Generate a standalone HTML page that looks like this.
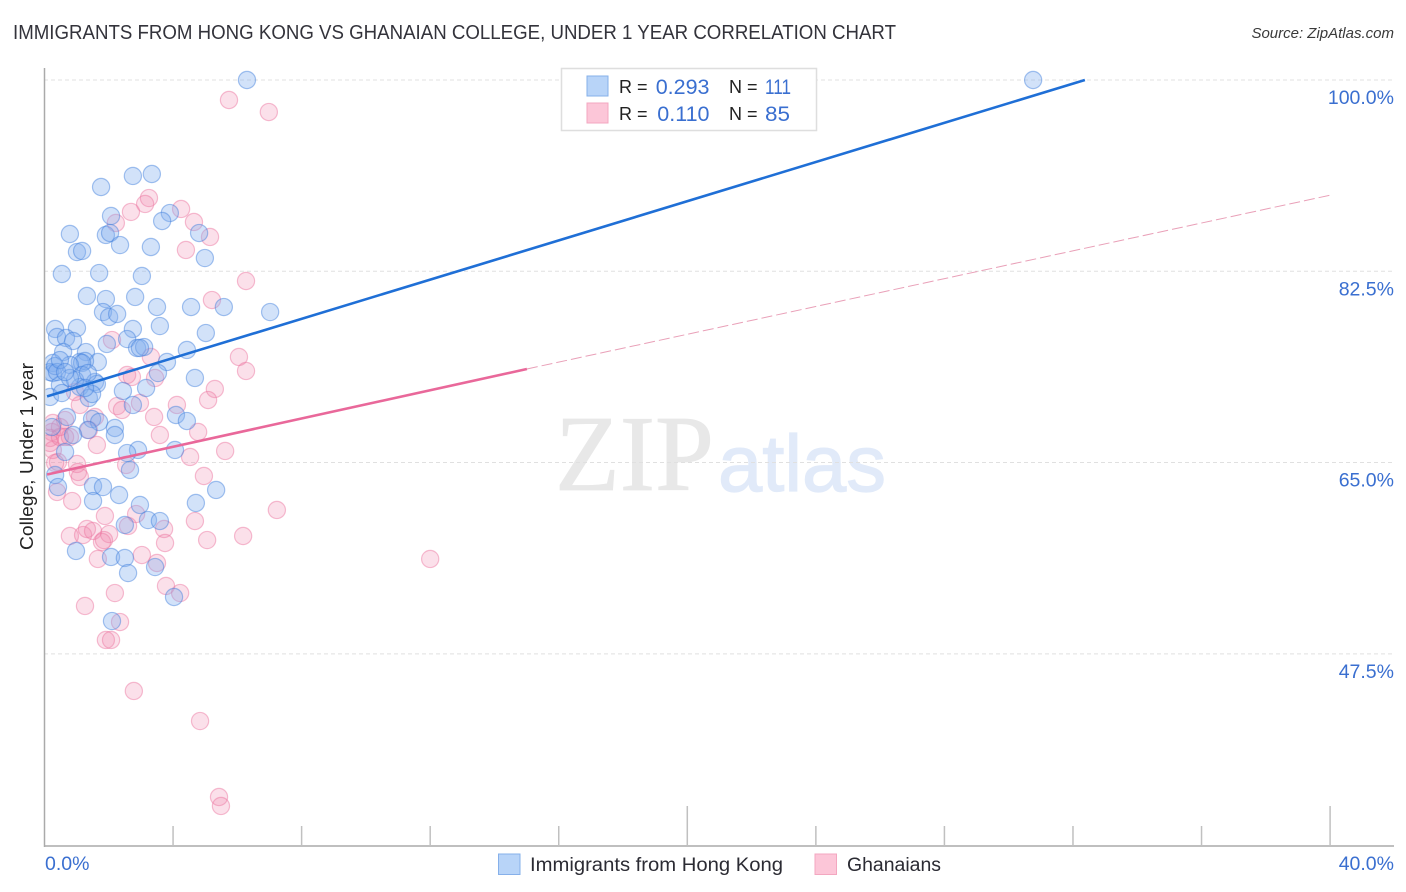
<!DOCTYPE html>
<html lang="en">
<head>
<meta charset="utf-8">
<title>Immigrants from Hong Kong vs Ghanaian College, Under 1 Year Correlation Chart</title>
<style>
html,body{margin:0;padding:0;background:#fff;}
svg{display:block;}
text{font-family:"Liberation Sans",sans-serif;}
</style>
</head>
<body>
<svg id="chart" xmlns="http://www.w3.org/2000/svg" width="1406" height="892" viewBox="0 0 1406 892">
  <defs>
    <clipPath id="plotClip"><rect x="45.5" y="60" width="1350" height="786"/></clipPath>
  </defs>
  <rect x="0" y="0" width="1406" height="892" fill="#ffffff"/>
  <text x="13" y="39" font-size="20" fill="#33333b" textLength="883" lengthAdjust="spacingAndGlyphs">IMMIGRANTS FROM HONG KONG VS GHANAIAN COLLEGE, UNDER 1 YEAR CORRELATION CHART</text>
  <text x="1394" y="38" font-size="15" font-style="italic" fill="#3a3a3a" text-anchor="end">Source: ZipAtlas.com</text>
  <g>
    <text x="555" y="490" font-size="108" fill="#e8e8e8" stroke="#e8e8e8" stroke-width="0.8" textLength="159" lengthAdjust="spacingAndGlyphs" style="font-family:'Liberation Serif',serif">ZIP</text>
    <text x="718" y="491" font-size="80" fill="#e1eaf9" stroke="#e1eaf9" stroke-width="1.2" textLength="168" lengthAdjust="spacingAndGlyphs">atlas</text>
  </g>
  <g id="grid"></g>
  <g id="pinkDots" clip-path="url(#plotClip)"></g>
  <g id="blueDots" clip-path="url(#plotClip)"></g>
  <g id="trends"></g>
  <g id="axes"></g>
  <g id="labels"></g>
  <text transform="translate(33,456.5) rotate(-90)" font-size="18" fill="#222" text-anchor="middle" textLength="187" lengthAdjust="spacingAndGlyphs">College, Under 1 year</text>

  <g>
    <rect x="561.5" y="68.5" width="255" height="62" fill="#fff" stroke="#dedede" stroke-width="1.5"/>
    <rect x="587" y="76" width="21" height="20" fill="#b8d4f8" stroke="#86b0ea"/>
    <rect x="587" y="103" width="21" height="20" fill="#fcc6d8" stroke="#f3a7c0"/>
    <text x="619" y="93" font-size="18" fill="#222">R =</text>
    <text x="709.5" y="94" font-size="21.5" fill="#3a6fd0" text-anchor="end">0.293</text>
    <text x="729" y="93" font-size="18" fill="#222">N =</text>
    <text x="765" y="94" font-size="21.5" fill="#3a6fd0" textLength="26" lengthAdjust="spacingAndGlyphs">111</text>
    <text x="619" y="120" font-size="18" fill="#222">R =</text>
    <text x="709.5" y="121" font-size="21.5" fill="#3a6fd0" text-anchor="end">0.110</text>
    <text x="729" y="120" font-size="18" fill="#222">N =</text>
    <text x="765" y="121" font-size="21.5" fill="#3a6fd0" textLength="25" lengthAdjust="spacingAndGlyphs">85</text>
  </g>

  <g>
    <rect x="498.5" y="854" width="21.5" height="20.5" fill="#b8d4f8" stroke="#86b0ea"/>
    <text x="530" y="871" font-size="19" fill="#2b2b33" textLength="253" lengthAdjust="spacingAndGlyphs">Immigrants from Hong Kong</text>
    <rect x="815" y="854" width="21.5" height="20.5" fill="#fcc6d8" stroke="#f3a7c0"/>
    <text x="847" y="871" font-size="19" fill="#2b2b33" textLength="94" lengthAdjust="spacingAndGlyphs">Ghanaians</text>
  </g>
</svg>
<script>
const xTicks = [4, 8, 12, 16, 20, 24, 28, 32, 36, 40];
const xMajorTicks = [20, 40];
const yTicks = [100, 82.5, 65, 47.5];
const yTickLabels = ["100.0%", "82.5%", "65.0%", "47.5%"];
const xEndLabels = ["0.0%", "40.0%"];

const hongKongX = [6.30,30.76,3.34,2.75,1.76,2.07,3.90,3.66,4.81,1.91,2.04,0.79,1.01,1.17,2.35,3.31,4.99,0.54,1.70,3.03,1.32,1.91,2.82,3.50,4.56,5.58,1.82,2.01,2.26,7.02,3.59,0.33,1.01,2.75,5.02,1.94,0.39,0.67,0.89,2.57,2.88,3.10,2.97,4.43,0.58,1.29,0.26,1.66,1.10,1.26,1.17,3.81,0.79,0.26,0.17,1.17,1.57,3.53,4.68,0.48,1.10,1.63,0.17,2.44,3.16,0.54,1.38,1.48,2.75,0.70,4.09,4.43,1.48,1.70,1.35,2.19,2.19,0.89,0.23,2.91,2.57,4.06,2.66,0.64,0.33,0.42,1.51,1.82,2.32,1.51,5.34,4.71,2.97,2.50,3.22,3.59,0.98,2.07,2.50,3.44,2.60,4.03,2.10,0.33,0.39,0.95,0.79,1.35,1.26,0.48,0.64];
const hongKongY = [100,100,91.40,91.22,90.21,87.56,87.83,87.10,86.00,85.82,86.00,85.91,84.26,84.36,84.90,84.72,83.71,82.25,82.34,82.07,80.24,79.96,80.15,79.23,79.23,79.23,78.77,78.32,78.59,78.77,77.49,77.22,77.31,77.22,76.85,75.85,76.49,76.40,76.12,76.30,75.48,75.57,75.48,75.30,75.11,75.11,74.11,74.20,74.20,74.29,74.11,74.20,73.93,73.19,73.28,73.01,72.37,73.19,72.74,72.10,71.91,72.19,71.00,71.55,71.82,71.36,70.91,71.27,70.27,69.17,69.35,68.80,68.98,68.71,67.98,68.16,67.52,67.52,68.25,66.15,65.87,66.15,64.32,65.97,63.86,62.76,62.85,62.76,62.03,61.48,62.49,61.30,61.12,59.29,59.74,59.65,56.91,56.36,56.27,55.44,54.89,52.70,50.50,73.83,73.28,72.55,72.74,73.19,71.82,74.38,73.28];

const ghanaiansX = [5.74,6.98,3.25,3.13,2.69,2.22,4.25,4.65,5.15,4.40,6.27,5.21,2.10,3.31,6.05,6.27,2.57,2.72,3.44,5.30,5.09,4.12,2.97,2.26,2.41,1.10,0.95,3.41,1.57,3.59,4.78,1.63,1.38,0.64,0.26,0.23,0.17,0.17,0.26,0.64,0.79,0.48,5.62,4.53,2.54,1.01,1.04,1.10,0.42,0.33,4.96,0.39,0.86,1.88,2.85,7.23,4.68,2.60,3.72,5.06,6.18,3.75,0.79,1.20,1.32,1.51,2.01,1.79,1.85,1.66,3.03,3.50,3.78,4.22,2.19,1.26,2.35,1.91,2.07,2.78,4.84,5.43,5.49,12.0,0.48];
const ghanaiansY = [98.17,97.07,89.20,88.66,87.93,86.92,88.20,87.01,85.64,84.45,81.61,79.87,76.21,74.66,74.66,73.38,73.01,72.83,72.74,71.73,70.72,70.27,70.45,70.17,69.81,70.27,71.46,69.17,69.17,67.52,67.80,66.61,67.98,68.89,68.62,67.80,67.25,66.79,66.15,67.34,67.34,67.34,66.06,65.51,64.78,64.87,64.14,63.68,65.05,64.96,63.77,62.31,61.48,60.11,60.29,60.66,59.65,59.20,58.92,57.91,58.28,57.64,58.28,58.37,58.92,58.74,58.46,57.73,57.91,56.18,56.54,55.81,53.71,53.06,53.06,51.88,50.41,48.77,48.77,44.10,41.35,34.40,33.58,56.18,68.25];

const hongKongTrendX = [0.08, 32.37];
const hongKongTrendY = [71.05, 100];
const ghanaiansSolidX = [0.08, 15.01];
const ghanaiansSolidY = [63.91, 73.56];
const ghanaiansDashX = [15.01, 40.03];
const ghanaiansDashY = [73.56, 89.48];

const NS = 'http://www.w3.org/2000/svg';
function xScale(v) { return 44.5 + v * 32.14; }
function yScale(v) { return 80 + (100 - v) * 10.93; }
function make(tag, attrs, parent) {
  const el = document.createElementNS(NS, tag);
  for (const k in attrs) el.setAttribute(k, attrs[k]);
  parent.appendChild(el);
  return el;
}
const grid = document.getElementById('grid');
const axes = document.getElementById('axes');
const labels = document.getElementById('labels');
const trends = document.getElementById('trends');
const pinkDots = document.getElementById('pinkDots');
const blueDots = document.getElementById('blueDots');

yTicks.forEach(function (t, i) {
  const line = make('line', {x1: 44, x2: 1394, y1: yScale(t), y2: yScale(t), stroke: '#e0e0e0', 'stroke-width': 1, 'stroke-dasharray': '4 3'}, grid);
  
  
  const label = make('text', {x: 1394, y: yScale(t) + 24, 'font-size': 19.5, fill: '#3a6fd0', 'text-anchor': 'end'}, labels);
  
  
  label.textContent = yTickLabels[i];
});

const yAxis = make('line', {x1: 44.5, x2: 44.5, y1: 68, y2: 847, stroke: '#aaaaaa', 'stroke-width': 1.5}, axes);


const xAxis = make('line', {x1: 44, x2: 1394, y1: 846, y2: 846, stroke: '#aaaaaa', 'stroke-width': 1.5}, axes);



xTicks.forEach(function (t) {
  const top = xMajorTicks.indexOf(t) >= 0 ? 806 : 826;
  const tick = make('line', {x1: xScale(t), x2: xScale(t), y1: top, y2: 846, stroke: '#c0c0c0', 'stroke-width': 1.5}, axes);
  
  
});

const xLabelLeft = make('text', {x: 45, y: 870, 'font-size': 19.5, fill: '#3a6fd0'}, labels);


xLabelLeft.textContent = xEndLabels[0];
const xLabelRight = make('text', {x: 1394, y: 870, 'font-size': 19.5, fill: '#3a6fd0', 'text-anchor': 'end'}, labels);


xLabelRight.textContent = xEndLabels[1];

ghanaiansX.forEach(function (x, i) {
  const dot = make('circle', {cx: xScale(x), cy: yScale(ghanaiansY[i]), r: 8.6, fill: 'rgba(240,130,170,0.25)', stroke: 'rgba(236,120,160,0.48)', 'stroke-width': 1.2}, pinkDots);
  
  
});
hongKongX.forEach(function (x, i) {
  const dot = make('circle', {cx: xScale(x), cy: yScale(hongKongY[i]), r: 8.6, fill: 'rgba(130,175,238,0.36)', stroke: 'rgba(60,125,220,0.45)', 'stroke-width': 1.2}, blueDots);
  
  
});

const blueTrend = make('line', {x1: xScale(hongKongTrendX[0]), y1: yScale(hongKongTrendY[0]), x2: xScale(hongKongTrendX[1]), y2: yScale(hongKongTrendY[1]), stroke: '#1f6fd6', 'stroke-width': 2.6}, trends);


const pinkTrend = make('line', {x1: xScale(ghanaiansSolidX[0]), y1: yScale(ghanaiansSolidY[0]), x2: xScale(ghanaiansSolidX[1]), y2: yScale(ghanaiansSolidY[1]), stroke: '#e9689a', 'stroke-width': 2.6}, trends);


const pinkDash = make('line', {x1: xScale(ghanaiansDashX[0]), y1: yScale(ghanaiansDashY[0]), x2: xScale(ghanaiansDashX[1]), y2: yScale(ghanaiansDashY[1]), stroke: '#e9a0b8', 'stroke-width': 1, 'stroke-dasharray': '11 4'}, trends);


</script>
</body>
</html>
